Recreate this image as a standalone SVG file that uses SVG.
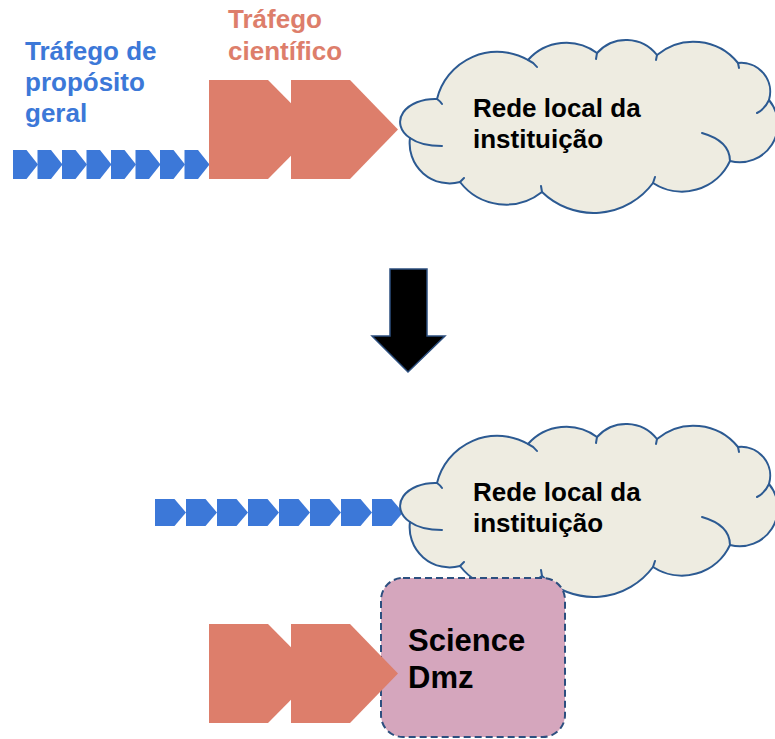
<svg xmlns="http://www.w3.org/2000/svg" xmlns:xlink="http://www.w3.org/1999/xlink" width="775" height="739" viewBox="0 0 775 739">
  <style>
    .blue { fill: #3C78D8; }
    .red { fill: #DD7E6B; }
    .cloud { fill: #EEECE1; stroke: #2C5A92; stroke-width: 2; stroke-linejoin: round; }
    .stub { fill: none; stroke: #2C5A92; stroke-width: 2; stroke-linecap: round; }
    .lbl { font-family: "Liberation Sans", Arial, sans-serif; font-weight: bold; font-size: 26px; }
    .tb { fill: #3C78D8; }
    .tr { fill: #DD7E6B; }
    .tk { fill: #000000; }
  </style>
  <defs>
    <g id="cloudShape">
      <path class="cloud" d="M410,138 A35 23 0 0 1 437,99 A62 62 0 0 1 528,60 A51 51 0 0 1 597,53 A39 39 0 0 1 657,55 A57 57 0 0 1 738,63 A29 29 0 0 1 769,100 A38 38 0 0 1 730,161 A53 53 0 0 1 653,183 A74 74 0 0 1 542,192 A58 58 0 0 1 460,182 A40 40 0 0 1 410,138 Z"/>
      <path class="stub" d="M410,138 Q421,146 442,146 M730,161 Q730,141 702,133 M769,100 Q765,109 757,113 M528,60 Q533,62 537,67 M437,99 Q440,101 442,104 M597,53 L596,59 M738,63 L739,68 M653,183 L655,177 M542,192 L541,186 M460,182 L464,178 M657,55 L656,60"/>
    </g>
    <polygon id="chevS" points="0,0 13.5,0 25,14.5 13.5,29 0,29"/>
    <polygon id="chevL" points="0,0 19.5,0 31,13.5 19.5,27 0,27"/>
  </defs>

  <!-- Top section -->
  <g id="label-general">
    <text class="lbl tb" x="25" y="60">Tráfego de</text>
    <text class="lbl tb" x="25" y="91">propósito</text>
    <text class="lbl tb" x="25" y="122">geral</text>
  </g>
  <g id="label-scientific">
    <text class="lbl tr" x="228" y="27.5">Tráfego</text>
    <text class="lbl tr" x="228" y="59.5">científico</text>
  </g>

  <g id="general-traffic-top" class="blue">
    <use xlink:href="#chevS" x="13" y="150"/>
    <use xlink:href="#chevS" x="37.5" y="150"/>
    <use xlink:href="#chevS" x="62" y="150"/>
    <use xlink:href="#chevS" x="86.5" y="150"/>
    <use xlink:href="#chevS" x="111" y="150"/>
    <use xlink:href="#chevS" x="135.5" y="150"/>
    <use xlink:href="#chevS" x="160" y="150"/>
    <use xlink:href="#chevS" x="184.5" y="150"/>
  </g>

  <g id="cloud-top">
    <use xlink:href="#cloudShape"/>
    <text class="lbl tk" x="473" y="117">Rede local da</text>
    <text class="lbl tk" x="473" y="148">instituição</text>
  </g>

  <g id="science-traffic-top" class="red">
    <polygon points="209,80 268,80 317,129.5 268,179 209,179"/>
    <polygon points="291,80 350,80 398,129.5 350,179 291,179"/>
  </g>

  <g id="connectors">
    <polygon points="390,269 427,269 427,336 445,336 408,372 372,336 390,336" fill="#000000" stroke="#2C4F7F" stroke-width="1.5" stroke-linejoin="miter"/>
  </g>

  <!-- Bottom section -->
  <g id="general-traffic-bottom" class="blue">
    <use xlink:href="#chevL" x="155" y="499"/>
    <use xlink:href="#chevL" x="186" y="499"/>
    <use xlink:href="#chevL" x="217" y="499"/>
    <use xlink:href="#chevL" x="248" y="499"/>
    <use xlink:href="#chevL" x="279" y="499"/>
    <use xlink:href="#chevL" x="310" y="499"/>
    <use xlink:href="#chevL" x="341" y="499"/>
    <use xlink:href="#chevL" x="372" y="499"/>
  </g>

  <g id="cloud-bottom">
    <use xlink:href="#cloudShape" transform="translate(0,384)"/>
    <text class="lbl tk" x="473" y="501">Rede local da</text>
    <text class="lbl tk" x="473" y="532">instituição</text>
  </g>

  <g id="science-dmz">
    <rect x="381" y="578" width="184" height="159" rx="22" ry="22" fill="#D5A6BD" stroke="#2C4F7F" stroke-width="2" stroke-dasharray="7 4"/>
    <text class="tk" x="408" y="651" font-family="Liberation Sans, Arial, sans-serif" font-weight="bold" font-size="31">Science</text>
    <text class="tk" x="408" y="688" font-family="Liberation Sans, Arial, sans-serif" font-weight="bold" font-size="31">Dmz</text>
  </g>

  <g id="science-traffic-bottom" class="red">
    <polygon points="209,624 268,624 317,673.5 268,723 209,723"/>
    <polygon points="291,624 350,624 398,673.5 350,723 291,723"/>
  </g>
</svg>
